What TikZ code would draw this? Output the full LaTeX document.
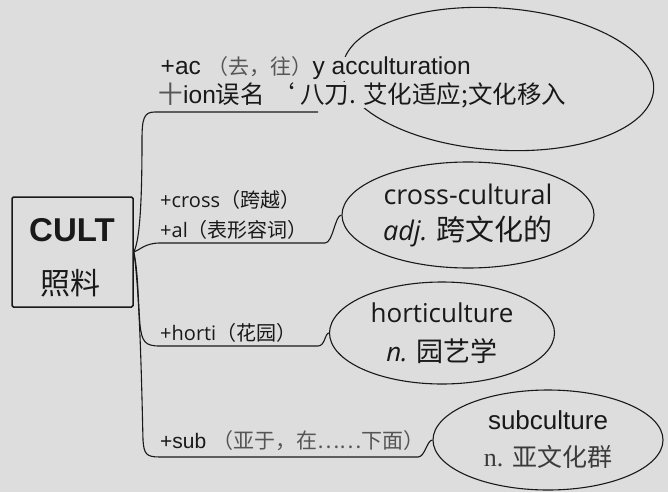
\documentclass[tikz,border=0pt]{standalone}
\usepackage{fontspec}
\setmainfont{Liberation Sans}
\newfontfamily\cjk{Noto Sans CJK SC}
\newfontfamily\opensans{Open Sans}
\newfontfamily\tms{Liberation Serif}
\usetikzlibrary{shapes.geometric}
\definecolor{bg}{RGB}{221,221,221}
\definecolor{ink}{RGB}{25,25,25}
\definecolor{soft}{RGB}{85,85,85}
\begin{document}
\begin{tikzpicture}[x=1pt,y=-1pt,
  branch/.style={draw=ink,line width=1.1pt},
  oval/.style={draw=ink,line width=1.1pt,ellipse,inner sep=0pt,align=center,text=ink},
  lbl/.style={anchor=base west,inner sep=0pt,text=ink},
]
\fill[bg] (0,0) rectangle (668,492);
\useasboundingbox (0,0) rectangle (668,492);

% root box
\node[draw=ink,line width=1.5pt,rounded corners=1.5pt,minimum width=121pt,minimum height=110pt,inner sep=0pt] (cult) at (72.5,252) {};
\node[lbl,anchor=base] (cultw) at (72,241) {\fontsize{33}{33}\selectfont\bfseries CULT};
\node[lbl,anchor=base] (cultz) at (70,294) {\cjk\fontsize{30}{30}\selectfont 照料};

% ellipses
\node[oval,rotate=-4,minimum width=312pt,minimum height=142pt] (e1) at (498,79) {};
\node[oval,minimum width=252pt,minimum height=106pt,font=\opensans\fontsize{27}{36}\selectfont] (e2) at (468,215)
  {cross-cultural\\{\itshape adj.} {\cjk\fontsize{29}{36}\selectfont 跨文化的}};
\node[oval,minimum width=225pt,minimum height=102pt,font=\opensans\fontsize{26}{39}\selectfont] (e3) at (442,333)
  {horticulture\\{\itshape n.} {\cjk\fontsize{27}{39}\selectfont 园艺学}};
\node[oval,minimum width=230pt,minimum height=100pt,font=\fontsize{26}{37}\selectfont] (e4) at (548,440)
  {subculture\\{\color{ink!85}\tms n. \cjk\fontsize{25}{37}\selectfont 亚文化群}};

% connectors
\coordinate (b1end) at (318,112);
\draw[branch] (cult.east) .. controls (140,240) and (142,200) .. (142,140)
  .. controls (142,118) and (144,112) .. (155,112) -- (b1end);
\draw[branch] (cult.east) .. controls (140,250) and (145,243) .. (160,243) -- (325,243)
  .. controls (333,243) and (335,215) .. (e2.west);
\draw[branch] (cult.east) .. controls (138,270) and (138,300) .. (140,325)
  .. controls (142,342) and (145,346) .. (160,346) -- (318,346)
  .. controls (325,346) and (325,333) .. (e3.west);
\draw[branch] (cult.east) .. controls (140,290) and (142,400) .. (143,440)
  .. controls (144,454) and (146,457) .. (160,457) -- (418,457)
  .. controls (425,457) and (427,440) .. (e4.west);

% branch labels
\node[lbl,fill=bg,inner sep=0.5pt] (t1a) at (160,75)
  {\fontsize{24.5}{25}\selectfont +ac {\cjk\color{soft}\fontsize{21}{25}\selectfont（去，往）}y acculturation};
\node[lbl,fill=bg,inner sep=0.5pt] (t1b) at (158,103)
  {\fontsize{24.5}{25}\selectfont{\cjk\color{soft}十}ion{\cjk 误名 ‘\ 八刀. 艾化适应;文化移入}};
\node[lbl] (t2a) at (160,207) {\opensans\fontsize{20}{20}\selectfont +cross{\cjk （跨越）}};
\node[lbl] (t2b) at (160,237) {\opensans\fontsize{20}{20}\selectfont +al{\cjk （表形容词）}};
\node[lbl] (t3) at (160,340) {\opensans\fontsize{20}{20}\selectfont +horti{\cjk （花园）}};
\node[lbl] (t4) at (160,448) {\fontsize{21}{21}\selectfont +sub {\cjk\color{soft}\fontsize{21}{21}\selectfont（亚于，在……下面）}};
\end{tikzpicture}
\end{document}
